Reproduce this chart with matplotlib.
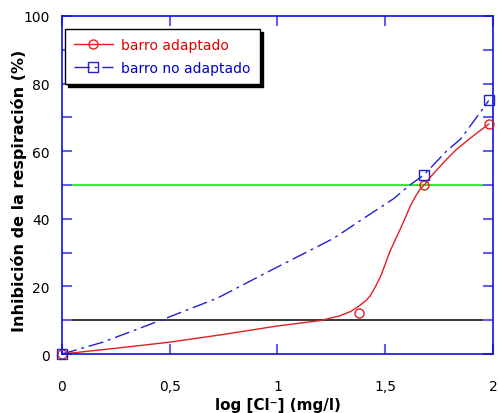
import matplotlib
matplotlib.use('Agg')
import matplotlib.pyplot as plt
from matplotlib.ticker import MultipleLocator, FixedLocator

# measured points
log_cl = [0, 1.38, 1.68, 1.98]
adaptado = [0, 12, 50, 68]
log_cl_no = [0, 1.68, 1.98]
no_adaptado = [0, 53, 75]

# smoothed curves
curve_ad_x = [0, 0.25, 0.5, 0.75, 1.0, 1.2, 1.29, 1.34, 1.38, 1.41, 1.43, 1.455, 1.48, 1.5, 1.52, 1.545,
              1.57, 1.595, 1.615, 1.64, 1.66, 1.685, 1.71, 1.75, 1.785, 1.83, 1.88, 1.93, 1.98]
curve_ad_y = [0, 1.7, 3.5, 5.8, 8.3, 9.9, 11.3, 12.6, 14.3, 15.8, 17.2, 20.0, 23.2, 26.6, 30.1, 33.6,
              37, 40.6, 43.6, 46.6, 48.6, 50.3, 52.4, 55.2, 57.6, 60.5, 63.1, 65.6, 68]
curve_no_x = [0, 0.19, 0.455, 0.72, 0.98, 1.26, 1.43, 1.54, 1.61, 1.68, 1.785, 1.85, 1.95, 1.98]
curve_no_y = [0, 3.5, 9.9, 16.5, 25.1, 34.2, 41.4, 46, 49.8, 53, 60.1, 63.6, 72.3, 75]

ref_lines = [50, 10]
ref_colors = ['#00e000', 'black']

x_ticks = [0, 0.5, 1, 1.5, 2]
x_labels = ['0', '0,5', '1', '1,5', '2']
y_ticks = [0, 20, 40, 60, 80, 100]

red = '#e02020'
blue = '#2020d8'

fig = plt.figure(figsize=(4.99, 4.14), dpi=100)
ax = fig.add_axes([0.1242, 0.1425, 0.8638, 0.8165])

for y, c in zip(ref_lines, ref_colors):
    ax.axhline(y, color=c, lw=1.1, zorder=1)

ax.plot(curve_ad_x, curve_ad_y, color=red, lw=1.0, zorder=2)
ax.plot(curve_no_x, curve_no_y, color=blue, lw=1.0, dashes=(11, 3.5, 2, 3.5), zorder=2)
ax.plot(log_cl, adaptado, ls='none', marker='o', ms=6.5, mfc='none', mec=red, mew=1.0, zorder=3, clip_on=False)
ax.plot(log_cl_no, no_adaptado, ls='none', marker='s', ms=7, mfc='none', mec=blue, mew=1.0, zorder=3, clip_on=False)

# legend proxies
h1, = ax.plot([], [], color=red, lw=1.0, marker='o', ms=6.5, mfc='none', mec=red)
h2, = ax.plot([], [], color=blue, lw=1.0, dashes=(11, 3.5, 2, 3.5), marker='s', ms=7, mfc='none', mec=blue)
leg = ax.legend([h1, h2], ['barro adaptado', 'barro no adaptado'], loc='upper left',
                bbox_to_anchor=(0.007, 0.962), borderaxespad=0, numpoints=1,
                fancybox=False, shadow={'color': 'black', 'alpha': 1},
                edgecolor='black', framealpha=1, fontsize=10, handlelength=2.8,
                labelspacing=0.65, borderpad=0.65, handletextpad=0.6)
leg.get_frame().set_linewidth(1.0)
leg.get_texts()[0].set_color('#e00000')
leg.get_texts()[1].set_color('#0000d0')

ax.set_xlim(0, 2)
ax.set_ylim(0, 100)
ax.xaxis.set_major_locator(FixedLocator(x_ticks))
ax.set_xticklabels(x_labels)
ax.yaxis.set_major_locator(FixedLocator(y_ticks))
ax.yaxis.set_minor_locator(MultipleLocator(10))

for s in ax.spines.values():
    s.set_color('#1010e0')
    s.set_linewidth(1.2)

ax.tick_params(axis='both', which='both', direction='in', color='#6060e8', width=1.5,
               top=True, right=True, labelsize=10)
ax.tick_params(axis='x', which='major', length=7, pad=18)
ax.tick_params(axis='y', which='both', length=7, pad=9)

ax.set_xlabel('log [Cl⁻] (mg/l)', fontsize=11, fontweight='bold')
ax.xaxis.set_label_coords(0.5, -0.128)
ax.set_ylabel('Inhibición de la respiración (%)', fontsize=11.5, fontweight='bold')
ax.yaxis.set_label_coords(-0.081, 0.485)

fig.savefig('out.png', dpi=100)
